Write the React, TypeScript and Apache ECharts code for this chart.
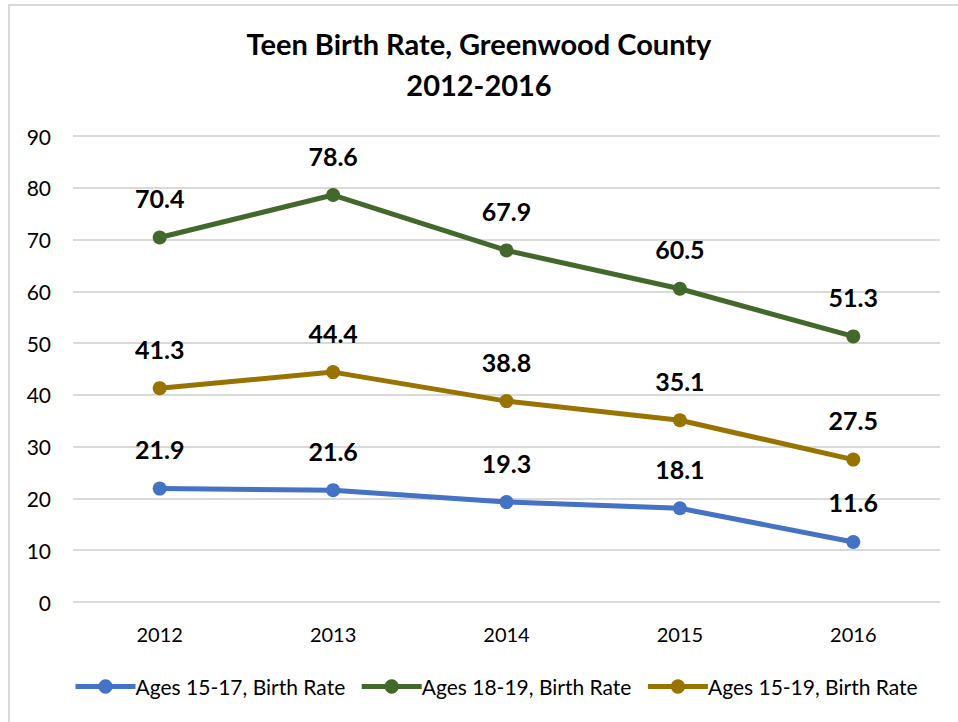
import React, { useEffect, useRef } from "react";
import * as echarts from "echarts";

const years = ["2012", "2013", "2014", "2015", "2016"];
const ages1517 = [21.9, 21.6, 19.3, 18.1, 11.6];
const ages1819 = [70.4, 78.6, 67.9, 60.5, 51.3];
const ages1519 = [41.3, 44.4, 38.8, 35.1, 27.5];

const seriesNames = [
  "Ages 15-17, Birth Rate",
  "Ages 18-19, Birth Rate",
  "Ages 15-19, Birth Rate",
];
const seriesColors = ["#4472C4", "#43682B", "#997300"];

const FONT = "Lato, 'Open Sans', sans-serif";

export default function App() {
  const ref = useRef<HTMLDivElement>(null);

  useEffect(() => {
    if (!ref.current) return;
    const chart = echarts.init(ref.current, undefined, { renderer: "svg" });

    const makeSeries = (name: string, data: number[], color: string) => ({
      name,
      type: "line",
      data,
      symbol: "circle",
      symbolSize: 14,
      lineStyle: { width: 5, color },
      itemStyle: { color },
      label: {
        show: true,
        position: "top",
        distance: 20,
        fontFamily: FONT,
        fontWeight: "bold",
        fontSize: 25,
        color: "#000",
        formatter: (p: any) => Number(p.value).toFixed(1),
      },
    });

    chart.setOption({
      animation: false,
      backgroundColor: "#fff",
      textStyle: { fontFamily: FONT },
      title: {
        text: "Teen Birth Rate, Greenwood County\n2012-2016",
        left: "center",
        top: 18,
        textStyle: {
          fontFamily: FONT,
          fontWeight: "bold",
          fontSize: 29,
          lineHeight: 41,
          color: "#000",
        },
      },
      graphic: [
        {
          type: "rect",
          shape: { x: 9, y: 5, width: 1000, height: 1000 },
          style: { fill: "none", stroke: "#d9d9d9", lineWidth: 2 },
          silent: true,
        },
      ],
      legend: {
        bottom: 20,
        left: 68,
        itemWidth: 60,
        itemHeight: 18,
        itemGap: 14,
        lineStyle: { width: 5 },
        textStyle: { fontFamily: FONT, fontSize: 21, color: "#000", padding: [0, 0, 0, -5] },
        data: seriesNames,
      },
      grid: { left: 73, right: 18, top: 136, bottom: 120 },
      xAxis: {
        type: "category",
        data: years,
        boundaryGap: true,
        axisLine: { show: false },
        axisTick: { show: false },
        axisLabel: { fontFamily: FONT, fontSize: 20, color: "#000", margin: 22 },
      },
      yAxis: {
        type: "value",
        min: 0,
        max: 90,
        interval: 10,
        axisLine: { show: false },
        axisTick: { show: false },
        splitLine: { lineStyle: { color: "#d9d9d9", width: 2 } },
        axisLabel: { fontFamily: FONT, fontSize: 21, color: "#000", margin: 22 },
      },
      series: [
        makeSeries(seriesNames[0], ages1517, seriesColors[0]),
        makeSeries(seriesNames[1], ages1819, seriesColors[1]),
        makeSeries(seriesNames[2], ages1519, seriesColors[2]),
      ],
    });

    return () => chart.dispose();
  }, []);

  return (
    <div
      ref={ref}
      style={{ position: "fixed", left: 0, top: 0, width: 958, height: 722 }}
    />
  );
}
